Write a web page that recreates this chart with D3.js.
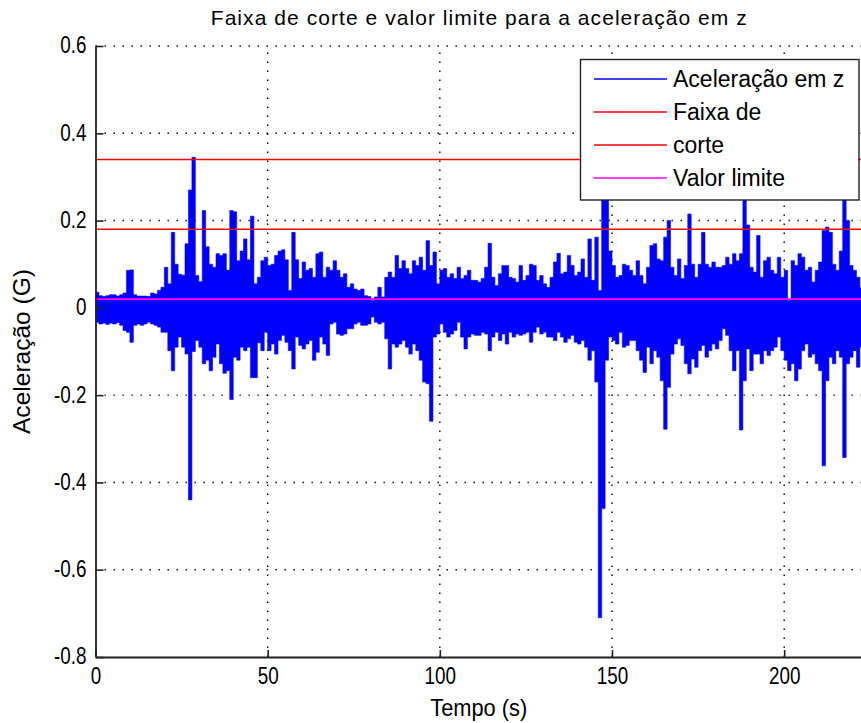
<!DOCTYPE html>
<html>
<head>
<meta charset="utf-8">
<script src="https://cdn.jsdelivr.net/npm/d3@7"></script>
<style>
body { margin: 0; background: #fff; }
svg { display: block; font-family: "Liberation Sans", Arial, sans-serif; }
.axis path, .axis line { stroke: #222; }
.axis text { font-size: 23px; fill: #000; }
</style>
</head>
<body>
<svg id="chart" width="861" height="723"></svg>
<script>
// envelope of the z acceleration, one max/min pair per second
var picoMax = [0.036,0.028,0.026,0.028,0.03,0.03,0.027,0.03,0.034,0.086,
    0.087,0.03,0.027,0.027,0.027,0.026,0.034,0.032,0.04,0.047,
    0.093,0.055,0.173,0.10,0.077,0.075,0.147,0.27,0.345,0.074,
    0.06,0.223,0.14,0.10,0.093,0.124,0.12,0.124,0.086,0.223,
    0.22,0.108,0.13,0.158,0.11,0.21,0.055,0.07,0.108,0.116,
    0.097,0.10,0.12,0.13,0.133,0.11,0.04,0.173,0.11,0.067,
    0.105,0.086,0.09,0.07,0.124,0.128,0.07,0.093,0.086,0.108,
    0.086,0.07,0.078,0.047,0.055,0.043,0.04,0.043,0.028,0.026,
    0.017,0.025,0.047,0.025,0.07,0.082,0.07,0.12,0.09,0.108,
    0.09,0.078,0.108,0.097,0.116,0.086,0.154,0.097,0.128,0.055,
    0.086,0.09,0.07,0.078,0.067,0.093,0.067,0.074,0.086,0.063,
    0.063,0.059,0.067,0.093,0.148,0.07,0.051,0.078,0.097,0.097,
    0.07,0.067,0.059,0.097,0.063,0.074,0.10,0.097,0.063,0.074,
    0.055,0.047,0.07,0.105,0.125,0.078,0.082,0.12,0.097,0.074,
    0.082,0.112,0.07,0.158,0.063,0.162,0.04,0.30,0.26,0.13,
    0.097,0.07,0.074,0.10,0.097,0.086,0.074,0.108,0.074,0.055,
    0.093,0.143,0.147,0.112,0.108,0.162,0.20,0.093,0.074,0.112,
    0.067,0.097,0.215,0.10,0.07,0.10,0.173,0.10,0.093,0.105,
    0.093,0.093,0.097,0.116,0.10,0.124,0.108,0.124,0.27,0.19,
    0.093,0.082,0.166,0.07,0.108,0.116,0.086,0.078,0.116,0.07,
    0.086,0.017,0.108,0.097,0.124,0.116,0.086,0.093,0.059,0.086,
    0.105,0.177,0.185,0.173,0.10,0.086,0.13,0.26,0.20,0.097,
    0.086,0.07,0.047];
var picoMin = [-0.033,-0.037,-0.035,-0.038,-0.035,-0.037,-0.034,-0.04,-0.052,-0.056,
    -0.079,-0.04,-0.037,-0.04,-0.037,-0.033,-0.037,-0.04,-0.044,-0.056,
    -0.056,-0.098,-0.144,-0.09,-0.067,-0.09,-0.106,-0.44,-0.10,-0.075,
    -0.09,-0.128,-0.12,-0.144,-0.113,-0.083,-0.128,-0.15,-0.144,-0.21,
    -0.113,-0.12,-0.09,-0.098,-0.09,-0.16,-0.16,-0.08,-0.098,-0.056,
    -0.098,-0.083,-0.106,-0.075,-0.063,-0.079,-0.098,-0.14,-0.067,-0.086,
    -0.094,-0.083,-0.075,-0.12,-0.102,-0.067,-0.083,-0.109,-0.037,-0.033,
    -0.06,-0.063,-0.06,-0.048,-0.048,-0.037,-0.033,-0.04,-0.04,-0.037,
    -0.021,-0.033,-0.037,-0.033,-0.071,-0.14,-0.083,-0.09,-0.083,-0.075,
    -0.09,-0.106,-0.083,-0.098,-0.12,-0.17,-0.174,-0.26,-0.067,-0.06,
    -0.037,-0.056,-0.067,-0.06,-0.052,-0.033,-0.067,-0.094,-0.067,-0.06,
    -0.063,-0.063,-0.056,-0.06,-0.098,-0.067,-0.056,-0.075,-0.06,-0.083,
    -0.056,-0.067,-0.06,-0.063,-0.06,-0.056,-0.079,-0.056,-0.044,-0.06,
    -0.056,-0.067,-0.067,-0.075,-0.056,-0.067,-0.079,-0.071,-0.063,-0.079,
    -0.083,-0.075,-0.09,-0.12,-0.098,-0.17,-0.71,-0.46,-0.12,-0.067,
    -0.075,-0.083,-0.056,-0.09,-0.086,-0.075,-0.075,-0.098,-0.12,-0.148,
    -0.09,-0.128,-0.098,-0.113,-0.167,-0.278,-0.182,-0.106,-0.083,-0.071,
    -0.086,-0.128,-0.151,-0.117,-0.136,-0.098,-0.086,-0.113,-0.098,-0.083,
    -0.094,-0.075,-0.048,-0.063,-0.098,-0.144,-0.098,-0.28,-0.167,-0.094,
    -0.144,-0.106,-0.106,-0.128,-0.098,-0.109,-0.098,-0.09,-0.067,-0.098,
    -0.12,-0.144,-0.128,-0.167,-0.14,-0.098,-0.083,-0.113,-0.106,-0.128,
    -0.144,-0.362,-0.167,-0.113,-0.128,-0.098,-0.113,-0.343,-0.128,-0.113,
    -0.098,-0.136,-0.09];
var faixaCorte = [0.34, 0.18];
var valorLimite = 0.02;
var xTicks = [0, 50, 100, 150, 200];
var yTicks = [-0.8, -0.6, -0.4, -0.2, 0, 0.2, 0.4, 0.6];
var legendItems = [
    {label: 'Aceleração em z', color: '#0000ff'},
    {label: 'Faixa de', color: '#ff0000'},
    {label: 'corte', color: '#ff0000'},
    {label: 'Valor limite', color: '#ff00ff'}
];

var svg = d3.select('#chart');
const margins = {left: 95.5, right: 862, top: 46, bottom: 657};

var x = d3.scaleLinear().domain([0, 222.6]).range([margins.left, margins.right]);
var y = d3.scaleLinear().domain([-0.8, 0.6]).range([margins.bottom, margins.top]);

svg.append('defs').append('clipPath').attr('id', 'plotClip')
    .append('rect')
    .attr('x', margins.left).attr('y', margins.top)
    .attr('width', margins.right - margins.left)
    .attr('height', margins.bottom - margins.top);

// dotted grid (behind data)
var grid = svg.append('g').attr('class', 'grid')
    .style('stroke', '#000').style('stroke-width', 1.4).style('stroke-dasharray', '1.4,7.6');
grid.selectAll('.vgrid').data(xTicks.filter(function(d) { return d > 0; }))
    .enter().append('line')
    .attr('x1', function(d) { return x(d); }).attr('x2', function(d) { return x(d); })
    .attr('y1', margins.bottom).attr('y2', margins.top);
grid.selectAll('.hgrid').data(yTicks.filter(function(d) { return d > -0.8; }))
    .enter().append('line')
    .attr('y1', function(d) { return y(d); }).attr('y2', function(d) { return y(d); })
    .attr('x1', margins.left).attr('x2', margins.right);

// signal: each second filled between its min and max
var pontos = picoMax.map(function(v, i) { return {t: i, max: v, min: picoMin[i]}; });
var ultimo = pontos[pontos.length - 1];
pontos.push({t: x.domain()[1], max: ultimo.max, min: ultimo.min});

var area = d3.area().curve(d3.curveStepAfter)
    .x(function(d) { return x(d.t); })
    .y0(function(d) { return y(d.min); })
    .y1(function(d) { return y(d.max); });
var plot = svg.append('g').attr('clip-path', 'url(#plotClip)');
plot.append('path').datum(pontos)
    .attr('d', area)
    .style('fill', '#0000ff').style('stroke', '#0000ff').style('stroke-width', 0.6);

plot.selectAll('.faixa').data(faixaCorte)
    .enter().append('line')
    .attr('x1', margins.left).attr('x2', margins.right)
    .attr('y1', function(d) { return y(d); }).attr('y2', function(d) { return y(d); })
    .style('stroke', '#ff0000').style('stroke-width', 1.6);

plot.append('line')
    .attr('x1', margins.left).attr('x2', margins.right)
    .attr('y1', y(valorLimite)).attr('y2', y(valorLimite))
    .style('stroke', '#ff00ff').style('stroke-width', 1.6);

// axes with inward ticks
var xAxis = d3.axisBottom(x).tickValues(xTicks).tickSizeInner(-7).tickSizeOuter(0).tickPadding(11)
    .tickFormat(function(d) { return String(d); });
var yAxis = d3.axisLeft(y).tickValues(yTicks).tickSizeInner(-8).tickSizeOuter(0).tickPadding(9)
    .tickFormat(function(d) { return String(d); });

var condensar = function(sel, fator) {
    sel.each(function() {
        var w = this.getComputedTextLength();
        d3.select(this).attr('textLength', w * fator).attr('lengthAdjust', 'spacingAndGlyphs');
    });
};

svg.append('g').attr('class', 'x axis')
    .attr('transform', 'translate(0,' + margins.bottom + ')')
    .call(xAxis)
    .call(function(g) { g.select('.domain').style('stroke-width', 1.8); });
svg.append('g').attr('class', 'y axis')
    .attr('transform', 'translate(' + margins.left + ',0)')
    .call(yAxis)
    .call(function(g) { g.select('.domain').style('stroke-width', 1.8); });
svg.selectAll('.axis .tick line').style('stroke-width', 1.6);
condensar(svg.selectAll('.axis .tick text'), 0.82);
svg.selectAll('.y.axis .tick text').attr('dy', '0.3em');

svg.append('text')
    .attr('x', (margins.left + margins.right) / 2).attr('y', 25)
    .style('text-anchor', 'middle').style('font-size', '21px')
    .attr('textLength', 536).attr('lengthAdjust', 'spacing')
    .text('Faixa de corte e valor limite para a aceleração em z');

svg.append('text')
    .attr('x', (margins.left + margins.right) / 2).attr('y', 716)
    .style('text-anchor', 'middle').style('font-size', '24px')
    .attr('textLength', 97).attr('lengthAdjust', 'spacingAndGlyphs')
    .text('Tempo (s)');

svg.append('text')
    .attr('transform', 'translate(30,' + (margins.top + margins.bottom) / 2 + ') rotate(-90)')
    .style('text-anchor', 'middle').style('font-size', '24px')
    .attr('textLength', 165).attr('lengthAdjust', 'spacingAndGlyphs')
    .text('Aceleração (G)');

// legend
var lg = svg.append('g').attr('class', 'legend');
lg.append('rect')
    .attr('x', 580.5).attr('y', 59.5).attr('width', 278.5).attr('height', 140.5)
    .style('fill', '#fff').style('stroke', '#222').style('stroke-width', 1.4);
var item = lg.selectAll('.item').data(legendItems)
    .enter().append('g')
    .attr('transform', function(d, i) { return 'translate(0,' + (79 + i * 33) + ')'; });
item.append('line')
    .attr('x1', 594).attr('x2', 667)
    .style('stroke', function(d) { return d.color; }).style('stroke-width', 1.6);
item.append('text')
    .attr('x', 673).attr('dy', '0.36em')
    .style('font-size', '23px')
    .text(function(d) { return d.label; });
</script>
</body>
</html>
